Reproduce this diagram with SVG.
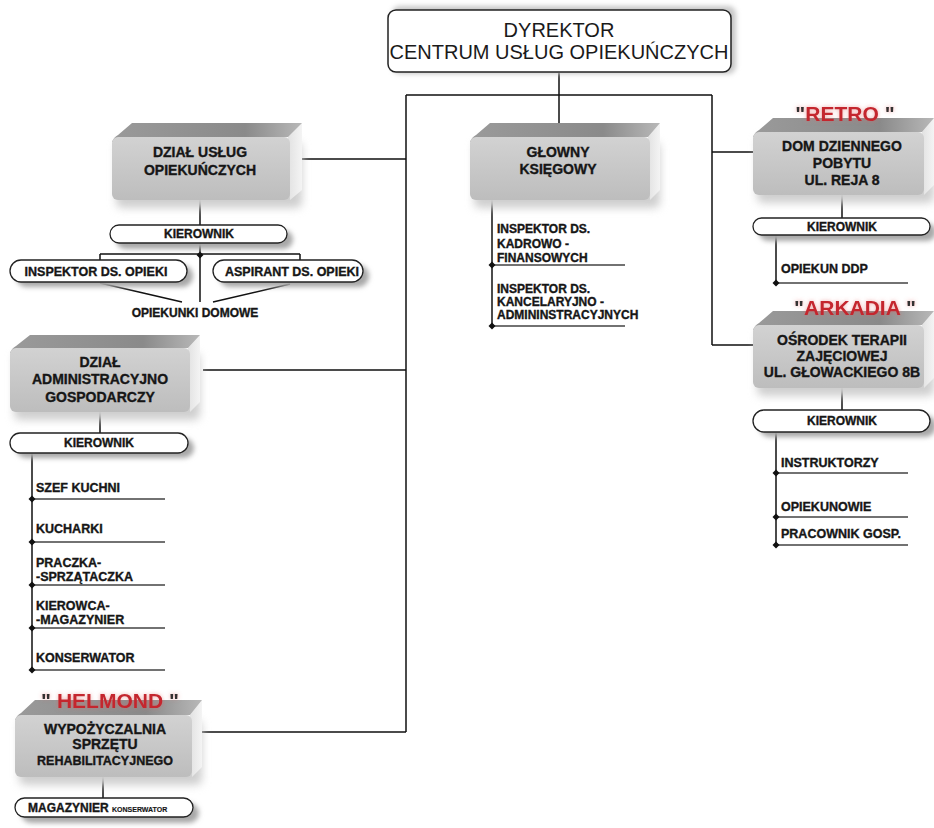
<svg xmlns="http://www.w3.org/2000/svg" xmlns:xlink="http://www.w3.org/1999/xlink" width="934" height="828" viewBox="0 0 934 828">
<defs>
<style>
.ln{stroke:#111;stroke-width:1.5;fill:none}
.sl{stroke:#444;stroke-width:1.5;fill:none}
.t{font-family:"Liberation Sans",Arial,sans-serif;font-weight:bold;fill:#161616;stroke:#161616;stroke-width:0.35}
.bx{font-size:14px;text-anchor:middle}
.it{font-size:12.5px}
.ik{font-size:12px}
.pl{font-size:12px;text-anchor:middle}
.pill{fill:#fff;stroke:#222;stroke-width:1.3}
.psh{fill:#a8a8a8;filter:url(#blur)}
.bsh{fill:#cfcfcf;filter:url(#blur2)}
.front{fill:url(#gFront)}
.top{fill:url(#gTop)}
.side{fill:url(#gSide)}
.red{font-family:"Liberation Sans",Arial,sans-serif;font-weight:bold;font-size:21px;fill:#c4262e;filter:url(#glow)}
.q{fill:#333}
</style>
<linearGradient id="gFront" x1="0" y1="0" x2="0" y2="1"><stop offset="0" stop-color="#d2d2d2"/><stop offset="1" stop-color="#bdbdbd"/></linearGradient>
<linearGradient id="gTop" x1="0" y1="0" x2="1" y2="0"><stop offset="0" stop-color="#9a9a9a"/><stop offset="0.7" stop-color="#8a8a8a"/><stop offset="1" stop-color="#b8b8b8"/></linearGradient>
<linearGradient id="gSide" x1="0" y1="0" x2="1" y2="0"><stop offset="0" stop-color="#e2e2e2"/><stop offset="1" stop-color="#f4f4f4"/></linearGradient>
<filter id="blur" x="-20%" y="-50%" width="140%" height="200%"><feGaussianBlur stdDeviation="2.5"/></filter>
<filter id="blur2" x="-20%" y="-50%" width="140%" height="200%"><feGaussianBlur stdDeviation="4"/></filter>
<filter id="glow" x="-20%" y="-50%" width="140%" height="200%"><feGaussianBlur in="SourceAlpha" stdDeviation="2" result="b"/><feFlood flood-color="#e06060" flood-opacity="0.55"/><feComposite in2="b" operator="in"/><feMerge><feMergeNode/><feMergeNode in="SourceGraphic"/></feMerge></filter>
<path id="dot" d="M0,-3.5 L3.5,0 L0,3.5 L-3.5,0Z" fill="#111"/>
</defs>
<rect width="934" height="828" fill="#fff"/>

<!-- connectors -->
<g id="connectors">
<path class="ln" d="M559,73 V123 M406,95 H712 M406,95 V732 M302,159 H406 M203,370 H406 M202,732 H406 M712,95 V345 M712,152 H755 M712,345 H755"/>
<path class="ln" d="M200,200 V225 M200,243 V302 M100,254 H300 M100,254 V260 M300,254 V260 M100,283 L182,302 M290,284 L213,302"/>
<use xlink:href="#dot" x="200" y="255"/>
<path class="ln" d="M492,200 V326"/>
<path class="sl" d="M492,265 H625 M492,326 H625"/>
<use xlink:href="#dot" x="492" y="265"/><use xlink:href="#dot" x="492" y="326"/>
<path class="ln" d="M842,195 V218 M776,235 V283 M842,388 V410 M776,432 V545"/>
<path class="sl" d="M776,283 H908 M776,473 H908 M776,517 H908 M776,545 H908"/>
<use xlink:href="#dot" x="776" y="283"/><use xlink:href="#dot" x="776" y="473"/><use xlink:href="#dot" x="776" y="517"/><use xlink:href="#dot" x="776" y="545"/>
<path class="ln" d="M100,412 V433 M32,453 V670 M103,777 V798"/>
<path class="sl" d="M32,499 H165 M32,542 H165 M32,585 H165 M32,628 H165 M32,670 H165"/>
<use xlink:href="#dot" x="32" y="499"/><use xlink:href="#dot" x="32" y="542"/><use xlink:href="#dot" x="32" y="585"/><use xlink:href="#dot" x="32" y="628"/><use xlink:href="#dot" x="32" y="670"/>
</g>

<!-- director -->
<g id="dyrektor">
<rect x="392" y="6" width="344" height="68" rx="8" fill="#c8c8c8" filter="url(#blur)"/>
<rect x="388" y="10" width="343" height="62" rx="8" fill="#fff" stroke="#222" stroke-width="1.5"/>
<text x="559" y="37" text-anchor="middle" font-family="Liberation Sans,Arial,sans-serif" font-size="20" fill="#1a1a1a">DYREKTOR</text>
<text x="559" y="59" text-anchor="middle" font-family="Liberation Sans,Arial,sans-serif" font-size="20" fill="#1a1a1a">CENTRUM USŁUG OPIEKUŃCZYCH</text>
</g>

<!-- Dział usług opiekuńczych -->
<g id="dzial-uslug">
<rect class="bsh" x="116" y="142" width="186" height="66" rx="6"/>
<path class="side" d="M288,137 L302,123 L302,190 L290,200Z"/>
<path class="top" d="M112,142 Q114,137 118,135 L132,123 L302,123 L288,137Z"/>
<rect class="front" x="112" y="137" width="178" height="63" rx="6"/>
<text class="t bx" x="200" y="157">DZIAŁ USŁUG</text>
<text class="t bx" x="200" y="175">OPIEKUŃCZYCH</text>
</g>
<g id="kierownik-uslug">
<rect class="psh" x="116" y="230" width="177" height="19" rx="9.5"/>
<rect class="pill" x="110" y="225" width="177" height="18" rx="9"/>
<text class="t pl" x="199" y="238">KIEROWNIK</text>
</g>
<g id="inspektor-opieki">
<rect class="psh" x="16" y="265" width="177" height="22" rx="11"/>
<rect class="pill" x="10" y="260" width="177" height="22" rx="11"/>
<text class="t" x="96" y="276" font-size="12.5" text-anchor="middle">INSPEKTOR DS. OPIEKI</text>
</g>
<g id="aspirant-opieki">
<rect class="psh" x="219" y="265" width="150" height="22" rx="11"/>
<rect class="pill" x="213" y="260" width="150" height="22" rx="11"/>
<text class="t" x="292" y="276" font-size="12.5" text-anchor="middle">ASPIRANT DS. OPIEKI</text>
</g>
<g id="opiekunki">
<text class="t pl" x="195" y="317">OPIEKUNKI DOMOWE</text>
</g>

<!-- Główny księgowy -->
<g id="glowny-ksiegowy">
<rect class="bsh" x="474" y="142" width="186" height="66" rx="6"/>
<path class="side" d="M648,137 L660,123 L660,190 L650,200Z"/>
<path class="top" d="M470,142 Q472,137 476,135 L490,123 L660,123 L648,137Z"/>
<rect class="front" x="470" y="137" width="180" height="63" rx="6"/>
<text class="t bx" x="558" y="157">GŁOWNY</text>
<text class="t bx" x="558" y="174">KSIĘGOWY</text>
</g>
<g id="inspektor-kadrowo">
<text class="t ik" x="497" y="233">INSPEKTOR DS.</text>
<text class="t ik" x="497" y="248">KADROWO -</text>
<text class="t ik" x="497" y="262">FINANSOWYCH</text>
</g>
<g id="inspektor-kancelaryjno">
<text class="t ik" x="497" y="293">INSPEKTOR DS.</text>
<text class="t ik" x="497" y="306">KANCELARYJNO -</text>
<text class="t ik" x="497" y="319">ADMININSTRACYJNYCH</text>
</g>

<!-- RETRO -->
<g id="retro">
<rect class="bsh" x="757" y="137" width="177" height="66" rx="6"/>
<path class="side" d="M922,132 L934,118 L934,185 L924,195Z"/>
<path class="top" d="M753,137 Q755,132 759,130 L773,118 L934,118 L922,132Z"/>
<rect class="front" x="753" y="132" width="171" height="63" rx="6"/>
<text class="red" x="845" y="121" text-anchor="middle"><tspan class="q">"</tspan>RETRO <tspan class="q">"</tspan></text>
<text class="t bx" x="842" y="151">DOM DZIENNEGO</text>
<text class="t bx" x="842" y="168">POBYTU</text>
<text class="t bx" x="842" y="185">UL. REJA 8</text>
</g>
<g id="kierownik-retro">
<rect class="psh" x="759" y="223" width="177" height="18" rx="9"/>
<rect class="pill" x="753" y="218" width="177" height="17" rx="8.5"/>
<text class="t pl" x="842" y="231">KIEROWNIK</text>
</g>
<g id="opiekun-ddp"><text class="t it" x="781" y="273">OPIEKUN DDP</text></g>

<!-- ARKADIA -->
<g id="arkadia">
<rect class="bsh" x="757" y="330" width="177" height="66" rx="6"/>
<path class="side" d="M922,325 L934,311 L934,378 L924,388Z"/>
<path class="top" d="M753,330 Q755,325 759,323 L773,311 L934,311 L922,325Z"/>
<rect class="front" x="753" y="325" width="171" height="63" rx="6"/>
<text class="red" x="855" y="315" text-anchor="middle"><tspan class="q">"</tspan>ARKADIA <tspan class="q">"</tspan></text>
<text class="t bx" x="842" y="345">OŚRODEK TERAPII</text>
<text class="t bx" x="842" y="361">ZAJĘCIOWEJ</text>
<text class="t bx" x="842" y="377">UL. GŁOWACKIEGO 8B</text>
</g>
<g id="kierownik-arkadia">
<rect class="psh" x="759" y="415" width="177" height="22" rx="11"/>
<rect class="pill" x="753" y="410" width="177" height="22" rx="11"/>
<text class="t pl" x="842" y="425">KIEROWNIK</text>
</g>
<g id="instruktorzy"><text class="t it" x="781" y="467">INSTRUKTORZY</text></g>
<g id="opiekunowie"><text class="t it" x="781" y="511">OPIEKUNOWIE</text></g>
<g id="pracownik-gosp"><text class="t it" x="781" y="538">PRACOWNIK GOSP.</text></g>

<!-- Dział administracyjno gospodarczy -->
<g id="dzial-admin">
<rect class="bsh" x="14" y="353" width="186" height="67" rx="6"/>
<path class="side" d="M188,348 L200,335 L200,402 L190,412Z"/>
<path class="top" d="M10,353 Q12,348 16,346 L30,335 L200,335 L188,348Z"/>
<rect class="front" x="10" y="348" width="180" height="64" rx="6"/>
<text class="t bx" x="100" y="367">DZIAŁ</text>
<text class="t bx" x="100" y="384">ADMINISTRACYJNO</text>
<text class="t bx" x="100" y="402">GOSPODARCZY</text>
</g>
<g id="kierownik-admin">
<rect class="psh" x="16" y="438" width="178" height="20" rx="10"/>
<rect class="pill" x="10" y="433" width="178" height="20" rx="10"/>
<text class="t pl" x="99" y="447">KIEROWNIK</text>
</g>
<g id="szef-kuchni"><text class="t it" x="36" y="492">SZEF KUCHNI</text></g>
<g id="kucharki"><text class="t it" x="36" y="533">KUCHARKI</text></g>
<g id="praczka"><text class="t it" x="36" y="567">PRACZKA-</text><text class="t it" x="36" y="581">-SPRZĄTACZKA</text></g>
<g id="kierowca"><text class="t it" x="36" y="610">KIEROWCA-</text><text class="t it" x="36" y="624">-MAGAZYNIER</text></g>
<g id="konserwator"><text class="t it" x="36" y="662">KONSERWATOR</text></g>

<!-- HELMOND -->
<g id="helmond">
<rect class="bsh" x="19" y="720" width="183" height="65" rx="6"/>
<path class="side" d="M190,715 L202,700 L202,767 L192,777Z"/>
<path class="top" d="M15,720 Q17,715 21,713 L35,700 L202,700 L190,715Z"/>
<rect class="front" x="15" y="715" width="177" height="62" rx="6"/>
<text class="red" x="110" y="708" text-anchor="middle"><tspan class="q">"</tspan> HELMOND <tspan class="q">"</tspan></text>
<text class="t bx" x="105" y="734">WYPOŻYCZALNIA</text>
<text class="t bx" x="105" y="749">SPRZĘTU</text>
<text class="t" x="105" y="765" font-size="12.5" text-anchor="middle">REHABILITACYJNEGO</text>
</g>
<g id="magazynier">
<rect class="psh" x="21" y="803" width="178" height="20" rx="10"/>
<rect class="pill" x="15" y="798" width="178" height="19" rx="9.5"/>
<text class="t" x="28" y="812" font-size="12">MAGAZYNIER <tspan font-size="7" style="stroke-width:0.15">KONSERWATOR</tspan></text>
</g>
</svg>
